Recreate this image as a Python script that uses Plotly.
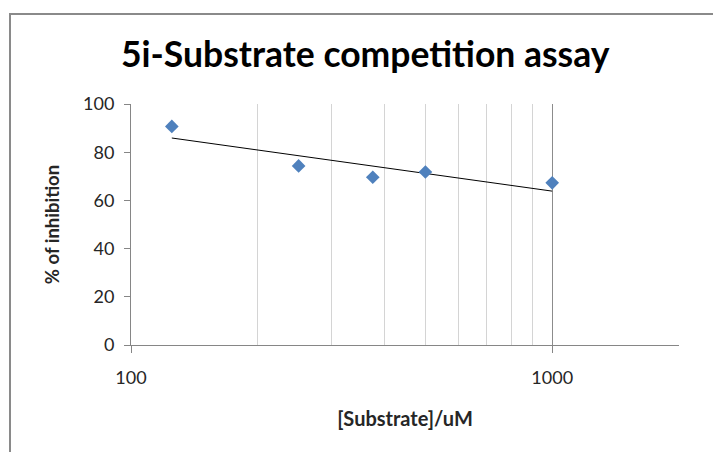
import numpy as np
import plotly.graph_objects as go

# Substrate concentration (uM) and measured inhibition (%)
substrate_um = [125, 250, 375, 500, 1000]
inhibition_pct = [90.7, 74.3, 69.6, 71.8, 67.3]

title_text = "5i-Substrate competition assay"
x_title = "[Substrate]/uM"
y_title = "% of inhibition"
x_major_ticks = [100, 1000]
x_minor_ticks = [200, 300, 400, 500, 600, 700, 800, 900, 2000]
y_ticks = [0, 20, 40, 60, 80, 100]

# Logarithmic trendline: y = a*ln(x) + b
a, b = np.polyfit(np.log(substrate_um), inhibition_pct, 1)
trend_x = np.array([min(substrate_um), max(substrate_um)], dtype=float)
trend_y = a * np.log(trend_x) + b

W, H = 713, 452
L, R, T, B = 131, 34, 104, 107
pw, ph = W - L - R, H - T - B


def px_to_paper_x(px):
    return (px - L) / pw


def px_to_paper_y(py):
    return (H - B - py) / ph


font_family = "Lato, 'Open Sans', sans-serif"

fig = go.Figure()
fig.add_trace(go.Scatter(
    x=trend_x, y=trend_y, mode="lines",
    line=dict(color="#000000", width=1), hoverinfo="skip", showlegend=False,
))
fig.add_trace(go.Scatter(
    x=substrate_um, y=inhibition_pct, mode="markers",
    marker=dict(symbol="diamond", size=10.5, color="#4F81BD"),
    showlegend=False,
))

fig.update_layout(
    width=W, height=H,
    margin=dict(l=L, r=R, t=T, b=B),
    paper_bgcolor="white", plot_bgcolor="white",
    font=dict(family=font_family, color="#262626"),
    xaxis=dict(
        type="log", range=[2, np.log10(2000)],
        tickvals=x_major_ticks, ticktext=[str(v) for v in x_major_ticks],
        ticks="outside", ticklen=7, tickcolor="#868686",
        showgrid=True, gridcolor="#8c8c8c", gridwidth=1,
        minor=dict(tickvals=x_minor_ticks, showgrid=True, gridcolor="#d4d4d4",
                   gridwidth=1, ticks=""),
        showline=True, linecolor="#868686", linewidth=1,
        tickfont=dict(size=18),
        ticklabelstandoff=9,
        zeroline=False,
        title=dict(text=x_title, font=dict(size=20, family=font_family, weight="bold"),
                   standoff=25),
    ),
    yaxis=dict(
        range=[0, 100], tickvals=y_ticks,
        ticks="outside", ticklen=6, tickcolor="#868686",
        showgrid=False, zeroline=False,
        showline=True, linecolor="#868686", linewidth=1,
        tickfont=dict(size=18),
        ticklabelstandoff=6,
        title=dict(text=y_title, font=dict(size=18.5, family=font_family, weight="bold"),
                   standoff=18),
    ),
    shapes=[dict(
        type="rect", xref="paper", yref="paper",
        x0=px_to_paper_x(10), x1=px_to_paper_x(W + 20),
        y0=px_to_paper_y(H + 20), y1=px_to_paper_y(14),
        line=dict(color="#8a8a8a", width=2), fillcolor="rgba(0,0,0,0)", layer="below",
    )],
    annotations=[dict(
        text=title_text, xref="paper", yref="paper",
        x=px_to_paper_x(365.5), y=px_to_paper_y(53),
        xanchor="center", yanchor="middle", showarrow=False,
        font=dict(size=35.5, family=font_family, weight="bold", color="#000000"),
    )],
)

fig.write_html("out.html")
